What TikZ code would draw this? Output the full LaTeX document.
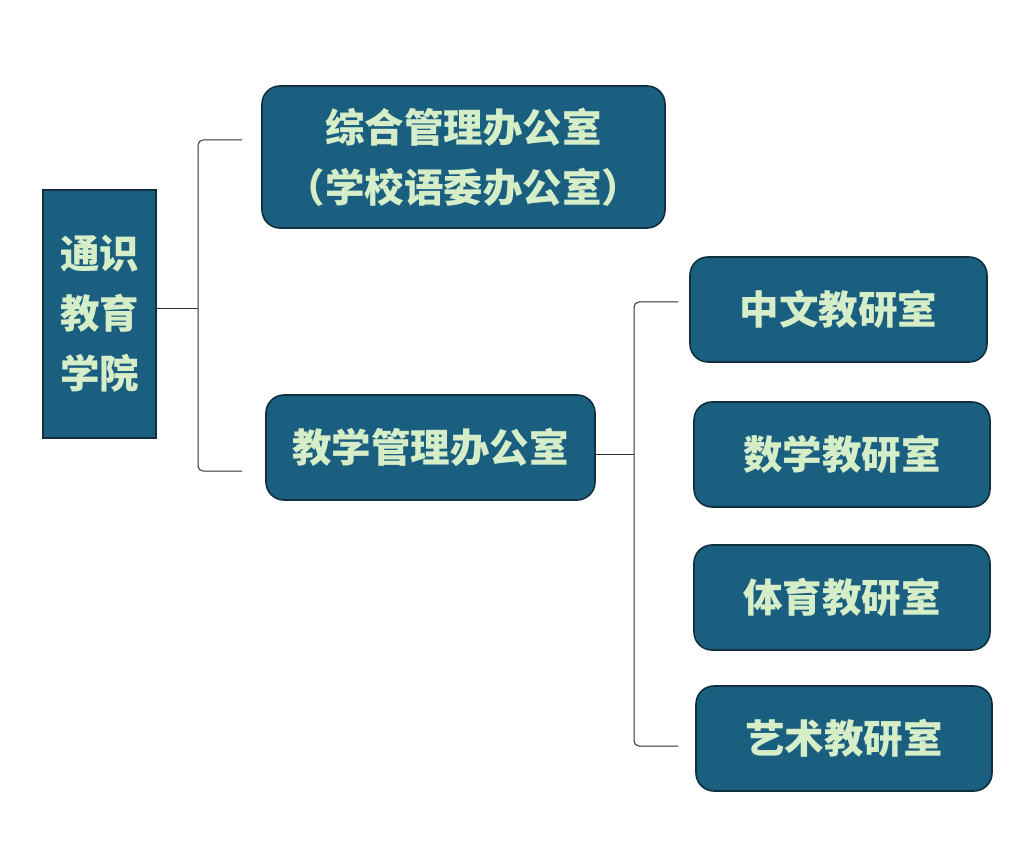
\documentclass[tikz,border=0pt]{standalone}
\usepackage{fontspec}
\newfontfamily\cjk{Noto Sans CJK SC}
\definecolor{boxfill}{HTML}{1A5E80}
\definecolor{boxline}{HTML}{10303F}
\definecolor{boxtext}{HTML}{D6EEC8}
\definecolor{connline}{HTML}{303030}
\tikzset{
  base/.style={draw=boxline, line width=1.6pt, fill=boxfill, text=boxtext,
    font=\cjk\bfseries\fontsize{39.5}{60}\selectfont, align=center, inner sep=0pt},
  roundbox/.style={base, rounded corners=18pt},
  squarebox/.style={base},
  conn/.style={draw=connline, line width=1pt, rounded corners=5pt},
}
\begin{document}
\begin{tikzpicture}[x=1pt,y=-1pt]
\useasboundingbox (0,0) rectangle (1018,850);
\node[squarebox, minimum width=113, minimum height=248] (L) at (99.5,314) {通识\\教育\\学院};
\node[roundbox, minimum width=403, minimum height=142, text depth=4pt] (A) at (463.5,157) {综合管理办公室\\（学校语委办公室）};
\node[roundbox, minimum width=329, minimum height=105] (B) at (430.5,447.5) {教学管理办公室};
\node[roundbox, minimum width=297, minimum height=105] (C1) at (838.5,309.5) {中文教研室};
\node[roundbox, minimum width=296, minimum height=105] (C2) at (842,454.5) {数学教研室};
\node[roundbox, minimum width=296, minimum height=105] (C3) at (842,597.5) {体育教研室};
\node[roundbox, minimum width=296, minimum height=105] (C4) at (844,738.5) {艺术教研室};
% left bracket
\coordinate (lj) at (198,309);
\coordinate (ltc) at (198,140);
\coordinate (lbc) at (198,471);
\coordinate (lt) at (242,140);
\coordinate (lb) at (242,471);
\draw[conn] (L.east |- lj) -- (lj);
\draw[conn] (lt) -- (ltc) -- (lbc) -- (lb);
% right bracket
\coordinate (rj) at (634,454);
\coordinate (rtc) at (634,302);
\coordinate (rbc) at (634,746);
\coordinate (rt) at (678,302);
\coordinate (rb) at (678,746);
\draw[conn] (B.east |- rj) -- (rj);
\draw[conn] (rt) -- (rtc) -- (rbc) -- (rb);
\end{tikzpicture}
\end{document}
